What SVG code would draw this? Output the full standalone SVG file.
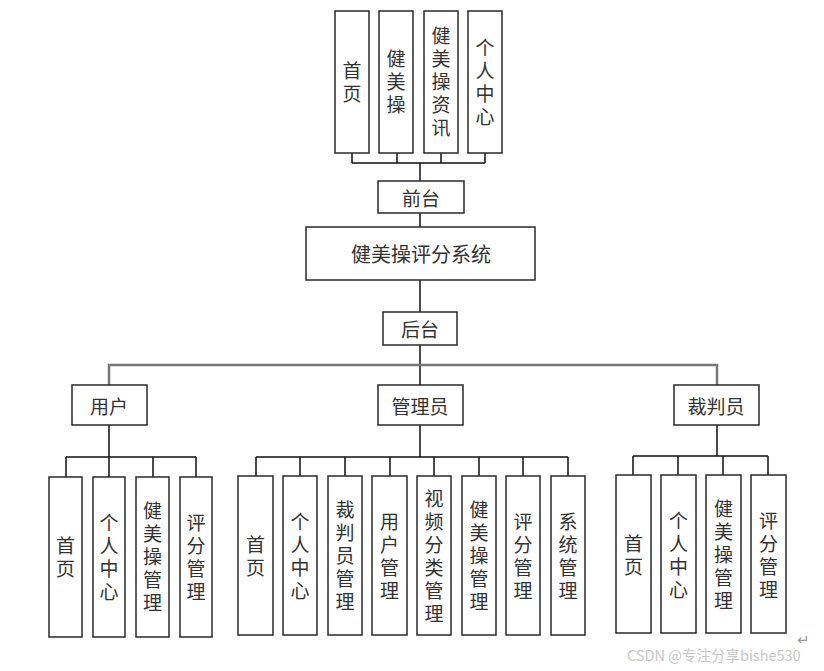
<svg xmlns="http://www.w3.org/2000/svg" width="824" height="671" viewBox="0 0 824 671">
<style>
.b{fill:#fff;stroke:#2a2a2a;stroke-width:1.5}
.t{font-family:"Noto Sans CJK SC","Noto Sans",sans-serif;font-size:19px;fill:#333;text-anchor:middle;dominant-baseline:central}
.v{font-family:"Noto Sans CJK SC","Noto Sans",sans-serif;font-size:19px;fill:#333;text-anchor:middle;writing-mode:vertical-rl;letter-spacing:4px}
.c{fill:none;stroke:#111;stroke-width:1.5}
.g{fill:none;stroke:#777;stroke-width:2.5}
.w{font-family:"Noto Sans CJK SC","Noto Sans",sans-serif;font-size:14.5px;fill:#c8c8c8}
</style>
<rect width="824" height="671" fill="#fff"/>
<g id="connectors">
<path class="c" d="M352 153V163M397 153V163M441 153V163M485 153V163M352 163H485M420 163V181"/>
<path class="c" d="M420 213V227M420 280V312M420 345V385"/>
<path class="g" d="M109 385V365H717V385"/>
<path class="c" d="M109 425V457M66 457H196M66 457V477M109 457V477M153 457V477M196 457V477"/>
<path class="c" d="M420 425V457M256 457H568M256 457V476M300 457V476M345 457V476M390 457V476M434 457V476M479 457V476M523 457V476M568 457V476"/>
<path class="c" d="M717 425V456M633 456H768M633 456V475M678 456V475M723 456V475M768 456V475"/>
</g>
<g id="f1"><rect class="b" x="335" y="11" width="34" height="142"/><text class="v" x="352" y="84">首页</text></g>
<g id="f2"><rect class="b" x="379" y="11" width="34" height="142"/><text class="v" x="396" y="84">健美操</text></g>
<g id="f3"><rect class="b" x="424" y="11" width="34" height="142"/><text class="v" x="441" y="84">健美操资讯</text></g>
<g id="f4"><rect class="b" x="468" y="11" width="34" height="142"/><text class="v" x="485" y="84">个人中心</text></g>
<g id="qiantai"><rect class="b" x="378" y="181" width="86" height="32"/><text class="t" x="421" y="197">前台</text></g>
<g id="system"><rect class="b" x="306" y="227" width="229" height="53"/><text class="t" x="421" y="253" style="font-size:20px">健美操评分系统</text></g>
<g id="houtai"><rect class="b" x="383" y="312" width="74" height="33"/><text class="t" x="420" y="328">后台</text></g>
<g id="user"><rect class="b" x="72" y="385" width="75" height="40"/><text class="t" x="109" y="405">用户</text></g>
<g id="admin"><rect class="b" x="378" y="385" width="85" height="40"/><text class="t" x="420" y="405">管理员</text></g>
<g id="judge"><rect class="b" x="674" y="385" width="85" height="40"/><text class="t" x="716" y="405">裁判员</text></g>
<g id="u1"><rect class="b" x="49" y="477" width="33" height="160"/><text class="v" x="65.5" y="559">首页</text></g>
<g id="u2"><rect class="b" x="93" y="477" width="32" height="160"/><text class="v" x="109" y="559">个人中心</text></g>
<g id="u3"><rect class="b" x="136" y="477" width="33" height="160"/><text class="v" x="152.5" y="559">健美操管理</text></g>
<g id="u4"><rect class="b" x="180" y="477" width="32" height="160"/><text class="v" x="196" y="559">评分管理</text></g>
<g id="a1"><rect class="b" x="238" y="476" width="35" height="159"/><text class="v" x="255.5" y="558">首页</text></g>
<g id="a2"><rect class="b" x="283" y="476" width="34" height="159"/><text class="v" x="300" y="558">个人中心</text></g>
<g id="a3"><rect class="b" x="328" y="476" width="34" height="159"/><text class="v" x="345" y="558">裁判员管理</text></g>
<g id="a4"><rect class="b" x="372" y="476" width="35" height="159"/><text class="v" x="389.5" y="558">用户管理</text></g>
<g id="a5"><rect class="b" x="417" y="476" width="34" height="159"/><text class="v" x="434" y="558">视频分类管理</text></g>
<g id="a6"><rect class="b" x="462" y="476" width="34" height="159"/><text class="v" x="479" y="558">健美操管理</text></g>
<g id="a7"><rect class="b" x="506" y="476" width="34" height="159"/><text class="v" x="523" y="558">评分管理</text></g>
<g id="a8"><rect class="b" x="551" y="476" width="34" height="159"/><text class="v" x="568" y="558">系统管理</text></g>
<g id="j1"><rect class="b" x="616" y="475" width="35" height="158"/><text class="v" x="633.5" y="557">首页</text></g>
<g id="j2"><rect class="b" x="661" y="475" width="35" height="158"/><text class="v" x="678.5" y="557">个人中心</text></g>
<g id="j3"><rect class="b" x="706" y="475" width="35" height="158"/><text class="v" x="723.5" y="557">健美操管理</text></g>
<g id="j4"><rect class="b" x="751" y="475" width="35" height="158"/><text class="v" x="768.5" y="557">评分管理</text></g>
<text x="797" y="645" style="font-family:'DejaVu Sans',sans-serif;font-size:15px;fill:#999">↵</text>
<text class="w" x="627" y="661">CSDN @专注分享bishe530</text>
</svg>
